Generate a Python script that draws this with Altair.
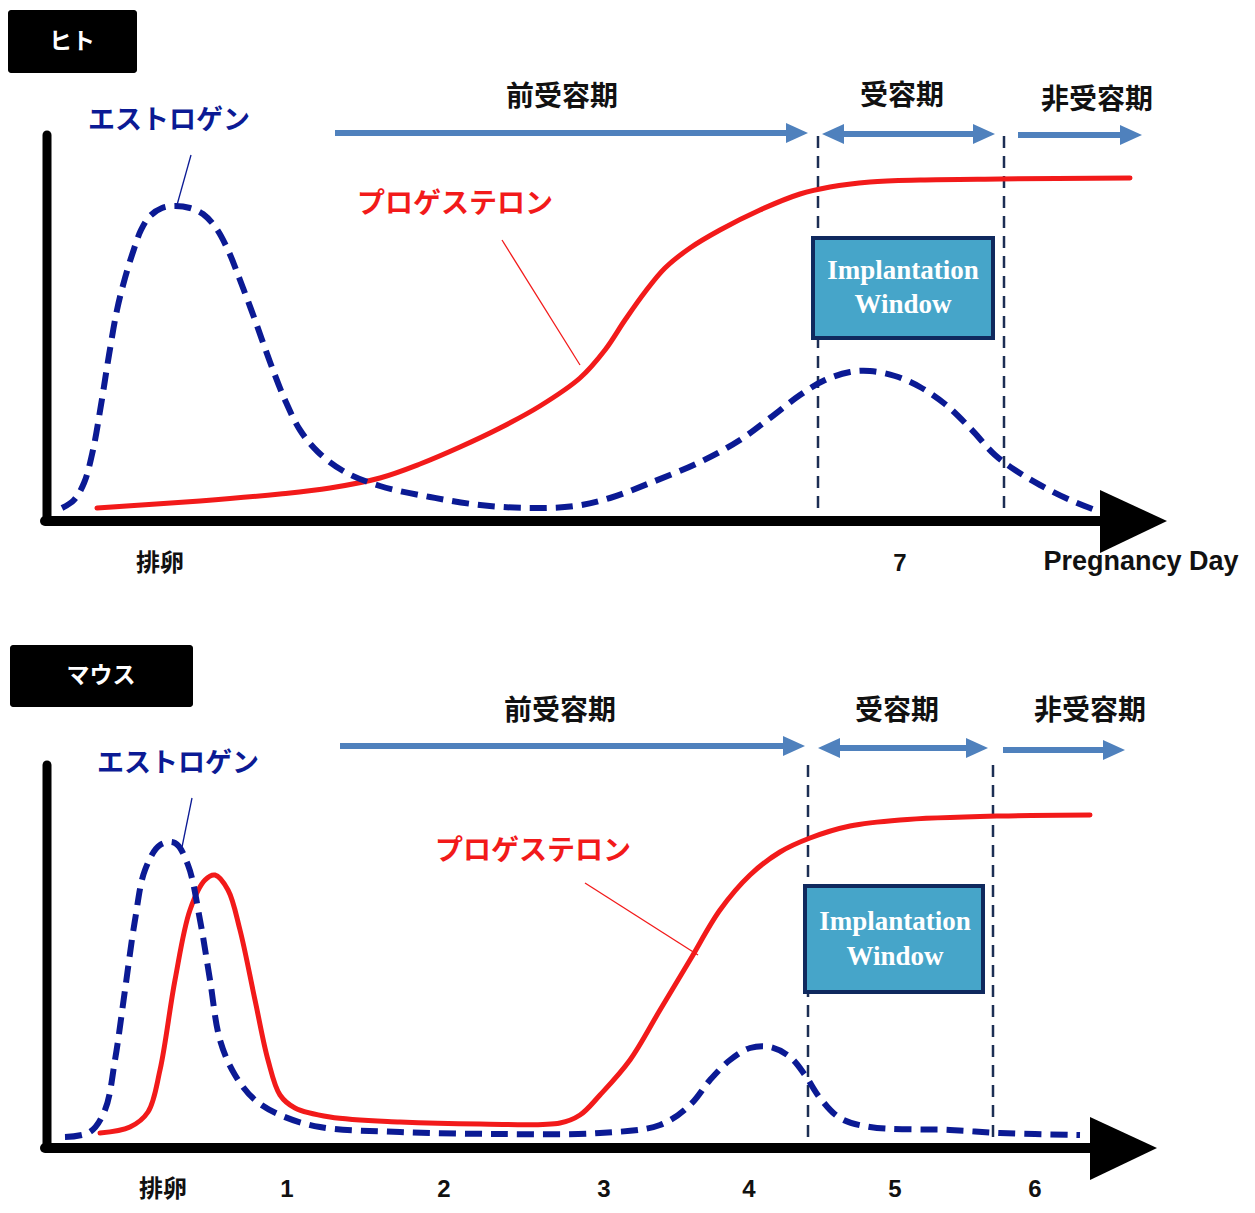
import altair as alt
import pandas as pd

W = 1255
H_TOP = 606
H_BOT = 607

# ---------------- Human (ヒト) panel data ----------------
h_est_x = [62, 74, 84, 93, 101, 109, 117, 125, 133, 141, 150, 162, 175, 190, 203, 216, 228, 240, 255, 270, 285, 300, 318, 345, 380, 430, 480, 530, 575, 610, 650, 700, 740, 770, 800, 825, 850, 870, 895, 920, 945, 970, 995, 1015, 1040, 1070, 1095]
h_est_y = [508, 500, 483, 450, 405, 355, 310, 278, 252, 230, 216, 208, 206, 208, 214, 228, 250, 280, 320, 362, 400, 430, 452, 472, 486, 497, 505, 508, 506, 498, 483, 462, 440, 418, 395, 380, 372, 371, 376, 387, 404, 428, 455, 470, 485, 500, 510]
h_pro_x = [97, 200, 280, 330, 380, 420, 460, 500, 540, 580, 605, 625, 645, 665, 690, 720, 760, 800, 830, 870, 920, 1000, 1130]
h_pro_y = [508, 501, 494, 488, 478, 464, 447, 428, 406, 378, 350, 320, 292, 268, 248, 230, 210, 194, 187, 182, 180, 179, 178]
h_ticks_x = [160, 900]
h_ticks = ["排卵", "7"]

# ---------------- Mouse (マウス) panel data ----------------
m_est_x = [65, 90, 105, 115, 125, 135, 145, 160, 175, 188, 200, 210, 220, 235, 255, 280, 320, 400, 500, 600, 660, 690, 710, 730, 750, 770, 790, 805, 820, 840, 870, 950, 1000, 1080]
m_est_y = [531, 526, 504, 454, 384, 314, 264, 239, 237, 259, 314, 374, 434, 469, 494, 509, 521, 526, 528, 527, 519, 499, 474, 454, 442, 441, 451, 469, 492, 512, 521, 524, 527, 529]
m_pro_x = [100, 130, 148, 160, 175, 190, 205, 215, 228, 240, 255, 268, 280, 295, 330, 400, 480, 560, 580, 600, 630, 660, 690, 720, 750, 780, 810, 850, 900, 1000, 1090]
m_pro_y = [527, 521, 506, 464, 374, 304, 274, 269, 284, 324, 394, 454, 489, 502, 511, 516, 518, 517, 509, 489, 454, 404, 354, 304, 269, 246, 232, 220, 214, 210, 209]
m_ticks_x = [163, 287, 444, 604, 749, 895, 1035]
m_ticks = ["排卵", "1", "2", "3", "4", "5", "6"]

phase_labels = ["前受容期", "受容期", "非受容期"]
species = ["ヒト", "マウス"]
hormones = ["エストロゲン", "プロゲステロン"]
window_lines = ["Implantation", "Window"]
axis_title = "Pregnancy Day"

# layout description per panel (positions in panel units)
human = dict(
    H=H_TOP, name=species[0], name_box=(8, 137, 10, 73), name_xy=(72, 42),
    yaxis=(47, 135, 521), xaxis=(45, 1100, 521), tri=(1100, 1167, 490, 553),
    est=(h_est_x, h_est_y), pro=(h_pro_x, h_pro_y),
    ticks=(h_ticks_x, h_ticks), tick_y=564, axis_title=(1141, 562),
    est_label=(169, 121), est_lead=(191, 155, 177, 205),
    pro_label=(455, 205), pro_lead=(502, 240, 580, 365),
    arrows=[(335, 808, 133, "r"), (822, 995, 134, "b"), (1018, 1142, 135, "r")],
    phase_xy=[(562, 98), (902, 97), (1097, 101)],
    vlines=(818, 1004, 136, 516),
    win=(813, 993, 238, 338), win_text=[(903, 271), (903, 305)],
)
mouse = dict(
    H=H_BOT, name=species[1], name_box=(10, 193, 39, 101), name_xy=(101, 70),
    yaxis=(47, 159, 542), xaxis=(45, 1092, 542), tri=(1090, 1157, 511, 574),
    est=(m_est_x, m_est_y), pro=(m_pro_x, m_pro_y),
    ticks=(m_ticks_x, m_ticks), tick_y=584, axis_title=None,
    est_label=(178, 158), est_lead=(192, 192, 181, 246),
    pro_label=(533, 246), pro_lead=(585, 277, 698, 349),
    arrows=[(340, 805, 140, "r"), (818, 988, 142, "b"), (1003, 1125, 144, "r")],
    phase_xy=[(560, 106), (897, 106), (1090, 106)],
    vlines=(808, 993, 159, 537),
    win=(805, 983, 280, 386), win_text=[(895, 316), (895, 351)],
)

NAVY = "#0b1a94"
RED = "#f21a1a"
ARROW = "#4f81bd"
JP = "Noto Sans CJK JP"
SANS = "Liberation Sans, Noto Sans CJK JP"


def panel(p):
    H = p["H"]
    xs = alt.Scale(domain=[0, W], nice=False, zero=False)
    ys = alt.Scale(domain=[0, H], nice=False, zero=False, reverse=True)

    def X(f="x"):
        return alt.X(f"{f}:Q", scale=xs, axis=None)

    def Y(f="y"):
        return alt.Y(f"{f}:Q", scale=ys, axis=None)

    layers = []

    # species box
    bx0, bx1, by0, by1 = p["name_box"]
    box = pd.DataFrame({"x": [bx0], "x2": [bx1], "y": [by0], "y2": [by1]})
    layers.append(alt.Chart(box).mark_rect(color="black", cornerRadius=3).encode(
        x=X(), x2="x2:Q", y=Y(), y2="y2:Q"))
    layers.append(alt.Chart(pd.DataFrame({"x": [p["name_xy"][0]], "y": [p["name_xy"][1]], "t": [p["name"]]}))
                  .mark_text(font=JP, fontSize=23, fontWeight="bold", color="white", baseline="middle")
                  .encode(x=X(), y=Y(), text="t:N"))

    # phase arrows: shafts + heads
    shafts = []
    heads = []
    hid = 0
    for (a0, a1, ay, kind) in p["arrows"]:
        hl, hh = 22, 10
        s0 = a0 + (hl - 2 if kind == "b" else 0)
        s1 = a1 - hl + 2
        shafts.append({"x": s0, "x2": s1, "y": ay})
        heads += [{"x": a1 - hl, "y": ay - hh, "y2": ay + hh, "id": hid},
                  {"x": a1, "y": ay, "y2": ay, "id": hid}]
        hid += 1
        if kind == "b":
            heads += [{"x": a0, "y": ay, "y2": ay, "id": hid},
                      {"x": a0 + hl, "y": ay - hh, "y2": ay + hh, "id": hid}]
            hid += 1
    layers.append(alt.Chart(pd.DataFrame(shafts)).mark_rule(color=ARROW, strokeWidth=6).encode(
        x=X(), x2="x2:Q", y=Y()))
    layers.append(alt.Chart(pd.DataFrame(heads)).mark_area(color=ARROW, opacity=1).encode(
        x=X(), y=Y(), y2="y2:Q", detail="id:N"))
    ph = pd.DataFrame({"x": [q[0] for q in p["phase_xy"]], "y": [q[1] for q in p["phase_xy"]], "t": phase_labels})
    layers.append(alt.Chart(ph).mark_text(font=JP, fontSize=28, fontWeight="bold", color="#111111", baseline="middle")
                  .encode(x=X(), y=Y(), text="t:N"))

    # dashed vertical lines
    v0, v1, vy0, vy1 = p["vlines"]
    vl = pd.DataFrame({"x": [v0, v1], "y": [vy0, vy0], "y2": [vy1, vy1]})
    layers.append(alt.Chart(vl).mark_rule(color="#1c2e54", strokeWidth=2.5, strokeDash=[12, 8]).encode(
        x=X(), y=Y(), y2="y2:Q"))

    # implantation window box
    wx0, wx1, wy0, wy1 = p["win"]
    wb = pd.DataFrame({"x": [wx0], "x2": [wx1], "y": [wy0], "y2": [wy1]})
    layers.append(alt.Chart(wb).mark_rect(fill="#46a5c9", stroke="#10295e", strokeWidth=4).encode(
        x=X(), x2="x2:Q", y=Y(), y2="y2:Q"))
    wt = pd.DataFrame({"x": [q[0] for q in p["win_text"]], "y": [q[1] for q in p["win_text"]], "t": window_lines})
    layers.append(alt.Chart(wt).mark_text(font="Liberation Serif", fontSize=27, fontWeight="bold", color="white", baseline="middle")
                  .encode(x=X(), y=Y(), text="t:N"))

    # hormone curves
    ex, ey = p["est"]
    px_, py_ = p["pro"]
    pro = pd.DataFrame({"x": px_, "y": py_, "o": range(len(px_))})
    est = pd.DataFrame({"x": ex, "y": ey, "o": range(len(ex))})
    layers.append(alt.Chart(pro).mark_line(color=RED, strokeWidth=5, interpolate="catmull-rom", strokeCap="round").encode(
        x=X(), y=Y(), order="o:Q"))
    layers.append(alt.Chart(est).mark_line(color=NAVY, strokeWidth=6, interpolate="catmull-rom", strokeDash=[17, 9]).encode(
        x=X(), y=Y(), order="o:Q"))

    # hormone labels + leader lines
    el = pd.DataFrame({"x": [p["est_label"][0]], "y": [p["est_label"][1]], "t": [hormones[0]]})
    layers.append(alt.Chart(el).mark_text(font=JP, fontSize=27, fontWeight="bold", color=NAVY, baseline="middle")
                  .encode(x=X(), y=Y(), text="t:N"))
    pl = pd.DataFrame({"x": [p["pro_label"][0]], "y": [p["pro_label"][1]], "t": [hormones[1]]})
    layers.append(alt.Chart(pl).mark_text(font=JP, fontSize=28, fontWeight="bold", color=RED, baseline="middle")
                  .encode(x=X(), y=Y(), text="t:N"))
    a = p["est_lead"]
    layers.append(alt.Chart(pd.DataFrame({"x": [a[0]], "y": [a[1]], "x2": [a[2]], "y2": [a[3]]}))
                  .mark_rule(color=NAVY, strokeWidth=1.3).encode(x=X(), y=Y(), x2="x2:Q", y2="y2:Q"))
    b = p["pro_lead"]
    layers.append(alt.Chart(pd.DataFrame({"x": [b[0]], "y": [b[1]], "x2": [b[2]], "y2": [b[3]]}))
                  .mark_rule(color=RED, strokeWidth=1.3).encode(x=X(), y=Y(), x2="x2:Q", y2="y2:Q"))

    # axes
    yx, yy0, yy1 = p["yaxis"]
    layers.append(alt.Chart(pd.DataFrame({"x": [yx], "y": [yy0], "y2": [yy1]}))
                  .mark_rule(color="black", strokeWidth=9, strokeCap="round").encode(x=X(), y=Y(), y2="y2:Q"))
    xx0, xx1, xy = p["xaxis"]
    layers.append(alt.Chart(pd.DataFrame({"x": [xx0], "x2": [xx1], "y": [xy]}))
                  .mark_rule(color="black", strokeWidth=10, strokeCap="round").encode(x=X(), x2="x2:Q", y=Y()))
    t0, t1, ty0, ty1 = p["tri"]
    tri = pd.DataFrame({"x": [t0, t1], "y": [ty0, xy], "y2": [ty1, xy]})
    layers.append(alt.Chart(tri).mark_area(color="black", opacity=1).encode(x=X(), y=Y(), y2="y2:Q"))

    # tick labels
    tx, tl = p["ticks"]
    tk = pd.DataFrame({"x": tx, "y": [p["tick_y"]] * len(tx), "t": tl})
    layers.append(alt.Chart(tk).mark_text(font=SANS, fontSize=24, fontWeight="bold", color="#111111", baseline="middle")
                  .encode(x=X(), y=Y(), text="t:N"))
    if p["axis_title"]:
        at = pd.DataFrame({"x": [p["axis_title"][0]], "y": [p["axis_title"][1]], "t": [axis_title]})
        layers.append(alt.Chart(at).mark_text(font="Liberation Sans", fontSize=27, fontWeight="bold", color="#111111", baseline="middle")
                      .encode(x=X(), y=Y(), text="t:N"))

    return alt.layer(*layers).properties(width=W, height=H)


chart = alt.vconcat(panel(human), panel(mouse), spacing=0).properties(
    padding=0, background="white"
).configure_view(stroke=None).configure_concat(spacing=0)

chart.save("out.html", embed_options={"renderer": "svg", "actions": False})
